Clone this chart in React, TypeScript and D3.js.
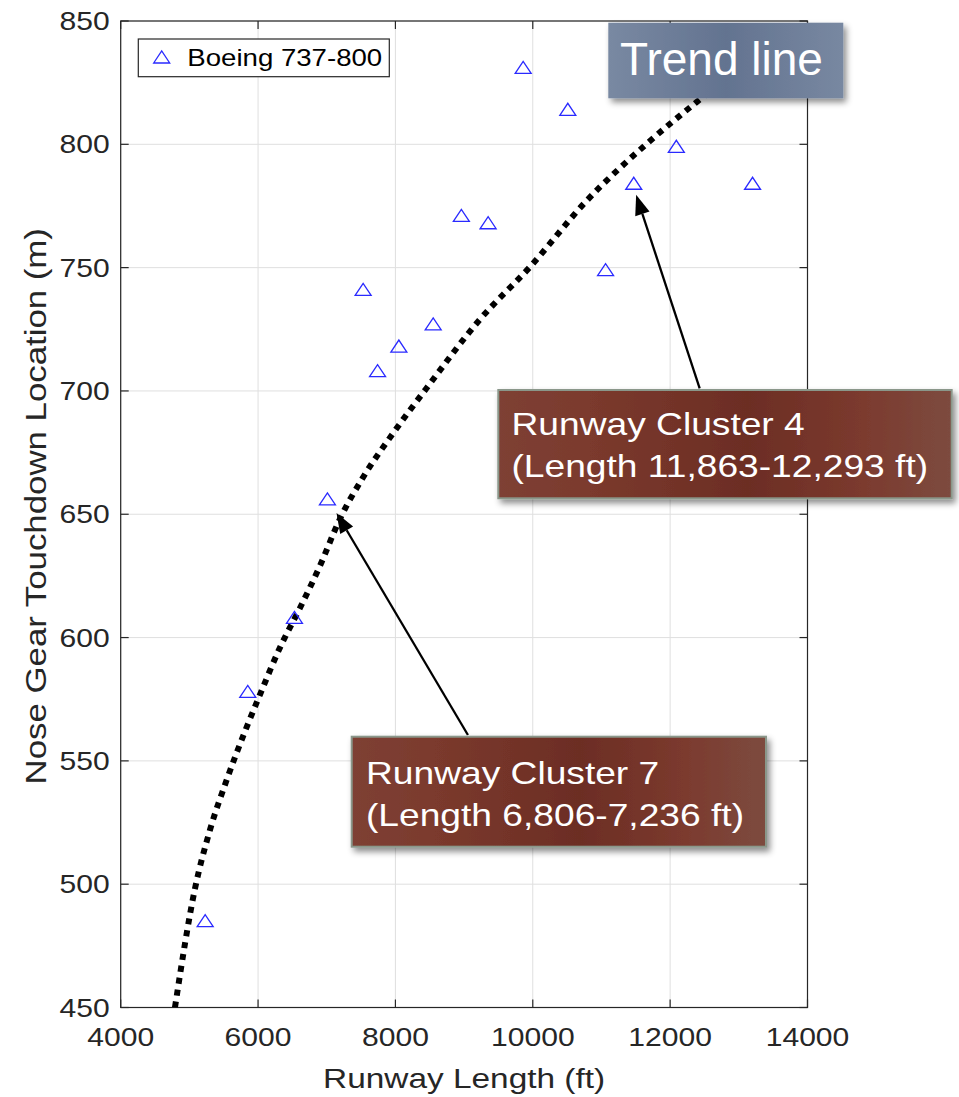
import React from "react";
import * as d3 from "d3";

// ---- Data ----
const runwayLength = [5230, 5850, 6530, 7010, 7530, 7740, 8050, 8550, 8960, 9350, 9860, 10510, 11060, 11470, 12090, 13200];
const touchdown = [485, 578, 608, 656, 741, 708, 718, 727, 771, 768, 831, 814, 749, 784, 799, 784];

const trendX = [4790, 5080, 5300, 5540, 5810, 6030, 6320, 6610, 6900, 7190, 7530, 7970, 8450, 9230, 9950, 10780, 11650, 12380, 12650];
const trendY = [450, 498, 522, 542, 562, 577, 596, 612, 629, 648, 665, 683, 701, 729, 750, 777, 800, 817, 823];

const xTicks = [4000, 6000, 8000, 10000, 12000, 14000];
const yTicks = [450, 500, 550, 600, 650, 700, 750, 800, 850];

const seriesName = "Boeing 737-800";
const xLabel = "Runway Length (ft)";
const yLabel = "Nose Gear Touchdown Location (m)";

const clusterLines4 = ["Runway Cluster 4", "(Length 11,863-12,293 ft)"];
const clusterLines7 = ["Runway Cluster 7", "(Length 6,806-7,236 ft)"];
// arrow tip / tail in data units
const arrow4 = { tip: [11505, 779.5], tail: [12430, 701] };
const arrow7 = { tip: [7142, 650.5], tail: [9056, 560.5] };

// ---- Layout ----
const W = 959, H = 1097;
const L = 120.7, R = 807.5, T = 21, B = 1007.5;
const FONT = "'Liberation Sans', Arial, Helvetica, sans-serif";
const SX = 1.18;
const AX = "#262626";

export default function App() {
  const x = d3.scaleLinear().domain([4000, 14000]).range([L, R]);
  const y = d3.scaleLinear().domain([450, 850]).range([B, T]);

  const trendPts: [number, number][] = trendX.map((v, i) => [x(v), y(trendY[i])]);
  const trendPath = d3.line().curve(d3.curveMonotoneX)(trendPts) || "";

  const tri = (cx: number, cy: number) =>
    `M${cx - 8},${cy + 5.5} L${cx},${cy - 6.5} L${cx + 8},${cy + 5.5} Z`;

  const arrow = (a: { tip: number[]; tail: number[] }, key: string) => {
    const tx = x(a.tip[0]), ty = y(a.tip[1]);
    const sx = x(a.tail[0]), sy = y(a.tail[1]);
    const ang = Math.atan2(ty - sy, tx - sx);
    const len = 20, hw = 7.5;
    const bx = tx - len * Math.cos(ang), by = ty - len * Math.sin(ang);
    const px = -Math.sin(ang) * hw, py = Math.cos(ang) * hw;
    return (
      <g key={key}>
        <line x1={sx} y1={sy} x2={bx} y2={by} stroke="#000" strokeWidth={2.3} />
        <path d={`M${tx},${ty} L${bx + px},${by + py} L${bx - px},${by - py} Z`} fill="#000" />
      </g>
    );
  };

  const box = (
    bx: number, by: number, bw: number, bh: number,
    lines: string[], tx: number, ty0: number, key: string
  ) => (
    <g key={key}>
      <rect x={bx} y={by} width={bw} height={bh} fill="url(#brownGrad)" stroke="#8a978a" strokeWidth={2}
        filter="url(#shadow)" />
      {lines.map((t, i) => (
        <text key={i} transform={`translate(${tx},${ty0 + i * 42}) scale(${SX},1)`} fontSize={31.5}
          fill="#fff" fontFamily={FONT}>{t}</text>
      ))}
    </g>
  );

  return (
    <svg width={W} height={H} style={{ position: "absolute", left: 0, top: 0, background: "#fff" }}
      fontFamily={FONT}>
      <defs>
        <clipPath id="plotClip">
          <rect x={L} y={T} width={R - L} height={B - T} />
        </clipPath>
        <linearGradient id="brownGrad" x1="0" x2="1" y1="0" y2="0">
          <stop offset="0%" stopColor="#7e4034" />
          <stop offset="20%" stopColor="#7b3a2d" />
          <stop offset="55%" stopColor="#6c2d24" />
          <stop offset="80%" stopColor="#7b3a2e" />
          <stop offset="100%" stopColor="#7d4b3f" />
        </linearGradient>
        <linearGradient id="slateGrad" x1="0" x2="1" y1="0" y2="0">
          <stop offset="0%" stopColor="#7989a2" />
          <stop offset="50%" stopColor="#637390" />
          <stop offset="100%" stopColor="#7888a1" />
        </linearGradient>
        <filter id="shadow" x="-10%" y="-10%" width="130%" height="140%">
          <feDropShadow dx="3" dy="4" stdDeviation="3" floodColor="#000" floodOpacity="0.45" />
        </filter>
      </defs>
      <rect x={0} y={0} width={W} height={H} fill="#fff" />

      {/* grid */}
      {xTicks.map((t) => (
        <line key={`gx${t}`} x1={x(t)} x2={x(t)} y1={T} y2={B} stroke="#dfdfdf" strokeWidth={1} />
      ))}
      {yTicks.map((t) => (
        <line key={`gy${t}`} x1={L} x2={R} y1={y(t)} y2={y(t)} stroke="#dfdfdf" strokeWidth={1} />
      ))}

      {/* axes box */}
      <rect x={L} y={T} width={R - L} height={B - T} fill="none" stroke={AX} strokeWidth={1.2} />
      {xTicks.map((t) => (
        <g key={`tx${t}`}>
          <line x1={x(t)} x2={x(t)} y1={B} y2={B - 8} stroke={AX} strokeWidth={1.2} />
          <line x1={x(t)} x2={x(t)} y1={T} y2={T + 8} stroke={AX} strokeWidth={1.2} />
          <text transform={`translate(${x(t)},${B + 38}) scale(${SX},1)`} textAnchor="middle" fontSize={25.5}
            fill={AX}>{t}</text>
        </g>
      ))}
      {yTicks.map((t) => (
        <g key={`ty${t}`}>
          <line x1={L} x2={L + 8} y1={y(t)} y2={y(t)} stroke={AX} strokeWidth={1.2} />
          <line x1={R} x2={R - 8} y1={y(t)} y2={y(t)} stroke={AX} strokeWidth={1.2} />
          <text transform={`translate(${L - 11},${y(t) + 9}) scale(${SX},1)`} textAnchor="end" fontSize={25.5}
            fill={AX}>{t}</text>
        </g>
      ))}

      {/* axis labels */}
      <text transform={`translate(${(L + R) / 2},${B + 80}) scale(${SX},1)`} textAnchor="middle" fontSize={28.3}
        fill={AX}>{xLabel}</text>
      <text transform={`translate(46,${(T + B) / 2 - 8}) rotate(-90) scale(${SX},1)`} textAnchor="middle"
        fontSize={29.5} fill={AX}>{yLabel}</text>

      {/* trend line */}
      <path d={trendPath} fill="none" stroke="#000" strokeWidth={6} strokeDasharray="6 6"
        clipPath="url(#plotClip)" />

      {/* data points */}
      {runwayLength.map((v, i) => (
        <path key={`p${i}`} d={tri(x(v), y(touchdown[i]))} fill="none" stroke="#2a2aff" strokeWidth={1.3} />
      ))}

      {/* legend */}
      <rect x={138.3} y={39} width={251} height={37.7} fill="#fff" stroke={AX} strokeWidth={1.2} />
      <path d={tri(161.7, 57.5)} fill="none" stroke="#2a2aff" strokeWidth={1.3} />
      <text transform={`translate(187.3,66) scale(${SX},1)`} fontSize={23.4} fill="#000">{seriesName}</text>

      {/* arrows */}
      {arrow(arrow4, "a4")}
      {arrow(arrow7, "a7")}

      {/* annotation boxes */}
      {box(498.3, 390, 453.4, 108.3, clusterLines4, 511.5, 435, "b4")}
      {box(351.7, 736.7, 414.3, 110, clusterLines7, 366, 783.5, "b7")}

      <g>
        <rect x={608.3} y={22.7} width={235} height={75.6} fill="url(#slateGrad)" filter="url(#shadow)" />
        <text x={620} y={75} fontSize={46} fill="#fff">Trend line</text>
      </g>
    </svg>
  );
}
